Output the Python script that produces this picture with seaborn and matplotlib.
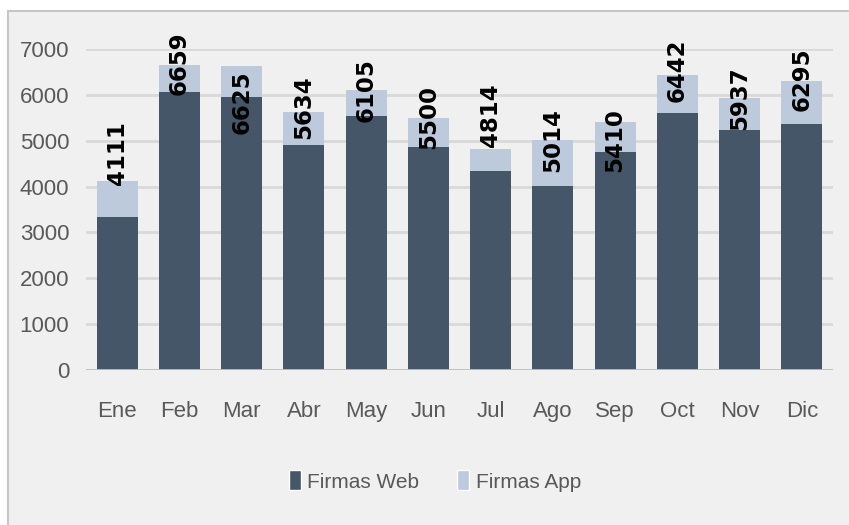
import matplotlib
matplotlib.use("Agg")

import matplotlib.pyplot as plt
from matplotlib.patches import Patch, Rectangle
import seaborn as sns
import pandas as pd

sns.set_theme(style="white")
plt.rcParams["font.family"] = ["Liberation Sans Narrow", "Liberation Sans", "DejaVu Sans"]

months = ["Ene", "Feb", "Mar", "Abr", "May", "Jun", "Jul", "Ago", "Sep", "Oct", "Nov", "Dic"]
totals = [4111, 6659, 6625, 5634, 6105, 5500, 4814, 5014, 5410, 6442, 5937, 6295]
firmas_web = [3330, 6060, 5960, 4910, 5540, 4870, 4340, 4010, 4750, 5610, 5230, 5360]
yticks = [0, 1000, 2000, 3000, 4000, 5000, 6000, 7000]

# where each total label sits relative to the bar top (data units)
label_shift = [620, 35, -780, 100, 0, 28, 746, 0, -406, 100, 0, 40]

dark = "#465669"
light = "#bccadc"
grey_txt = "#595959"

df = pd.DataFrame({"Mes": months, "Total": totals, "Web": firmas_web})

fig = plt.figure(figsize=(8.49, 5.25), dpi=100)
fig.patch.set_facecolor("white")
bg = Rectangle((8 / 849, -0.01), 1.0, 1 - 11 / 525 + 0.01,
               transform=fig.transFigure, facecolor="#f0f0f0",
               edgecolor="#c6c6c6", linewidth=1.5, zorder=-10)
fig.add_artist(bg)

ax = fig.add_axes([86 / 849, 1 - 370 / 525, (833 - 86) / 849, (370 - 49) / 525])
ax.set_facecolor("none")

sns.barplot(data=df, x="Mes", y="Total", color=light, width=0.66,
            saturation=1, linewidth=0, ax=ax, zorder=2)
sns.barplot(data=df, x="Mes", y="Web", color=dark, width=0.66,
            saturation=1, linewidth=0, ax=ax, zorder=3)

ax.set_ylim(0, 7000)
ax.set_xlim(-0.5, len(months) - 0.5)
ax.set_yticks(yticks)
ax.set_yticklabels([str(t) for t in yticks])
ax.yaxis.grid(True, color="#d9d9d9", linewidth=2, zorder=0)
ax.set_axisbelow(True)
ax.axhline(0, color="#bfbfbf", linewidth=2, zorder=4)
for s in ax.spines.values():
    s.set_visible(False)
ax.tick_params(axis="both", length=0, labelcolor=grey_txt, labelsize=16)
ax.tick_params(axis="x", pad=22)
ax.tick_params(axis="y", pad=12)
ax.set_xlabel("")
ax.set_ylabel("")

for i, (t, sh) in enumerate(zip(totals, label_shift)):
    ax.text(i, t + sh, str(t), rotation=90, ha="center", va="center",
            fontsize=16.5, fontweight="bold", color="black",
            family=["DejaVu Sans"], zorder=5, clip_on=False)

handles = [Patch(facecolor=dark, label="Firmas Web"),
           Patch(facecolor=light, label="Firmas App")]
fig.legend(handles=handles, loc="center", bbox_to_anchor=(0.512, 1 - 481 / 525),
           ncol=2, frameon=False, fontsize=15, labelcolor=grey_txt,
           handlelength=0.6, handleheight=1.1, handletextpad=0.3, columnspacing=1.8)

fig.savefig("out.png", dpi=100)
